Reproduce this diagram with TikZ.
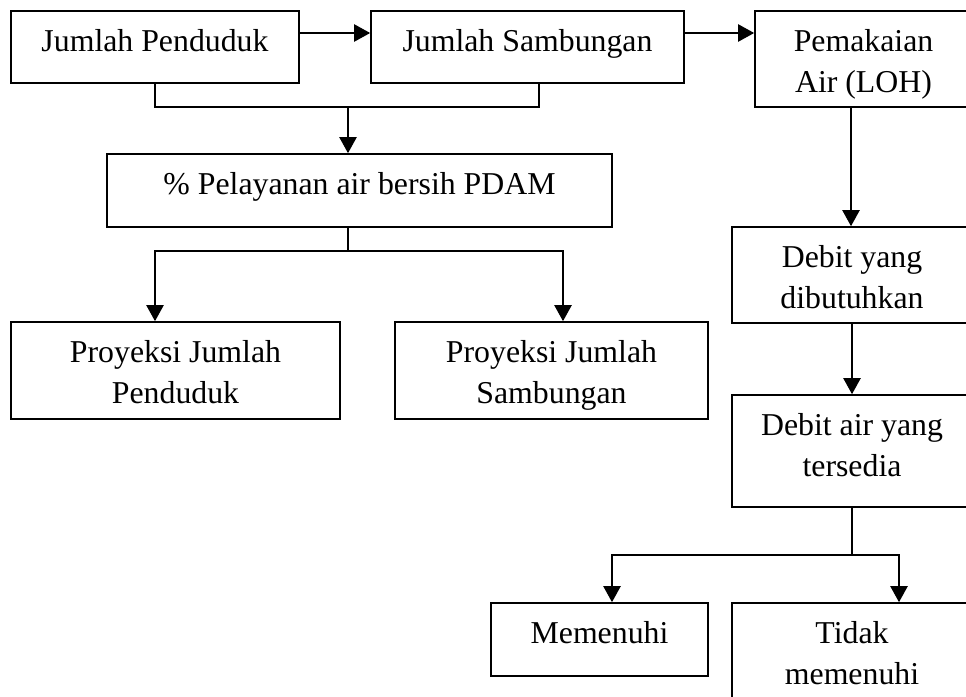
\documentclass[tikz,border=0pt]{standalone}
\usepackage{fontspec}
\setmainfont{Liberation Serif}
\usetikzlibrary{arrows.meta}
\begin{document}
\begin{tikzpicture}[x=1pt,y=-1pt,
    kotak/.style={draw,line width=1.6pt,inner sep=0pt,align=center,
      font=\fontsize{31.8}{41}\selectfont},
    satu/.style={kotak,text height=40pt},
    dua/.style={kotak,text height=81pt},
    panah/.style={-{Triangle[length=16pt,width=17pt]},line width=2.2pt},
    garis/.style={line width=2pt}]
  \useasboundingbox (0,0) rectangle (966,696);

  % Boxes on the left
  \node[satu,minimum width=288pt,text depth=32pt] (pend) at (155,47) {Jumlah Penduduk};
  \node[satu,minimum width=313pt,text depth=32pt] (samb) at (527.5,47) {Jumlah Sambungan};
  \node[satu,minimum width=505pt,text depth=33pt] (layan) at (359.5,190.5) {\% Pelayanan air bersih PDAM};
  \node[dua,minimum width=329pt,text depth=16pt] (proypend) at (175.5,370.5) {Proyeksi Jumlah\\Penduduk};
  \node[dua,minimum width=313pt,text depth=16pt] (proysamb) at (551.5,370.5) {Proyeksi Jumlah\\Sambungan};

  % Boxes on the right
  \node[dua,minimum width=217pt,text depth=15pt] (pakai) at (863.5,59) {Pemakaian\\Air (LOH)};
  \node[dua,minimum width=240pt,text depth=15pt] (butuh) at (852,275) {Debit yang\\dibutuhkan};
  \node[dua,minimum width=240pt,text depth=31pt] (sedia) at (852,451) {Debit air yang\\tersedia};
  \node[satu,minimum width=217pt,text depth=33pt] (penuh) at (599.5,639.5) {Memenuhi};
  \node[dua,minimum width=240pt,text depth=31pt] (tidak) at (852,659) {Tidak\\memenuhi};

  % Arrows along the top
  \draw[panah] ([yshift=14pt]pend.east) -- ([yshift=14pt]pend.east -| samb.west);
  \draw[panah] ([yshift=14pt]samb.east) -- ([yshift=14pt]samb.east -| pakai.west);

  % Join into the service box
  \coordinate (gabung) at (348,107);
  \draw[garis] (pend.south) |- (gabung) -| ([xshift=11.5pt]samb.south);
  \draw[panah] (gabung) -- (gabung |- layan.north);

  % Split into the two projections
  \coordinate (cabang) at (348,251);
  \draw[garis] (cabang |- layan.south) -- (cabang);
  \draw[panah] (cabang) -| ([xshift=-20.5pt]proypend.north);
  \draw[panah] (cabang) -| ([xshift=11.5pt]proysamb.north);

  % Right column
  \draw[panah] ([xshift=-12.5pt]pakai.south) -- ([xshift=-1pt]butuh.north);
  \draw[panah] (butuh.south) -- (sedia.north);
  \coordinate (pilih) at (852,555);
  \draw[garis] (sedia.south) -- (pilih);
  \draw[panah] (pilih) -| ([xshift=12.5pt]penuh.north);
  \draw[panah] (pilih) -| ([xshift=47pt]tidak.north);
\end{tikzpicture}
\end{document}
